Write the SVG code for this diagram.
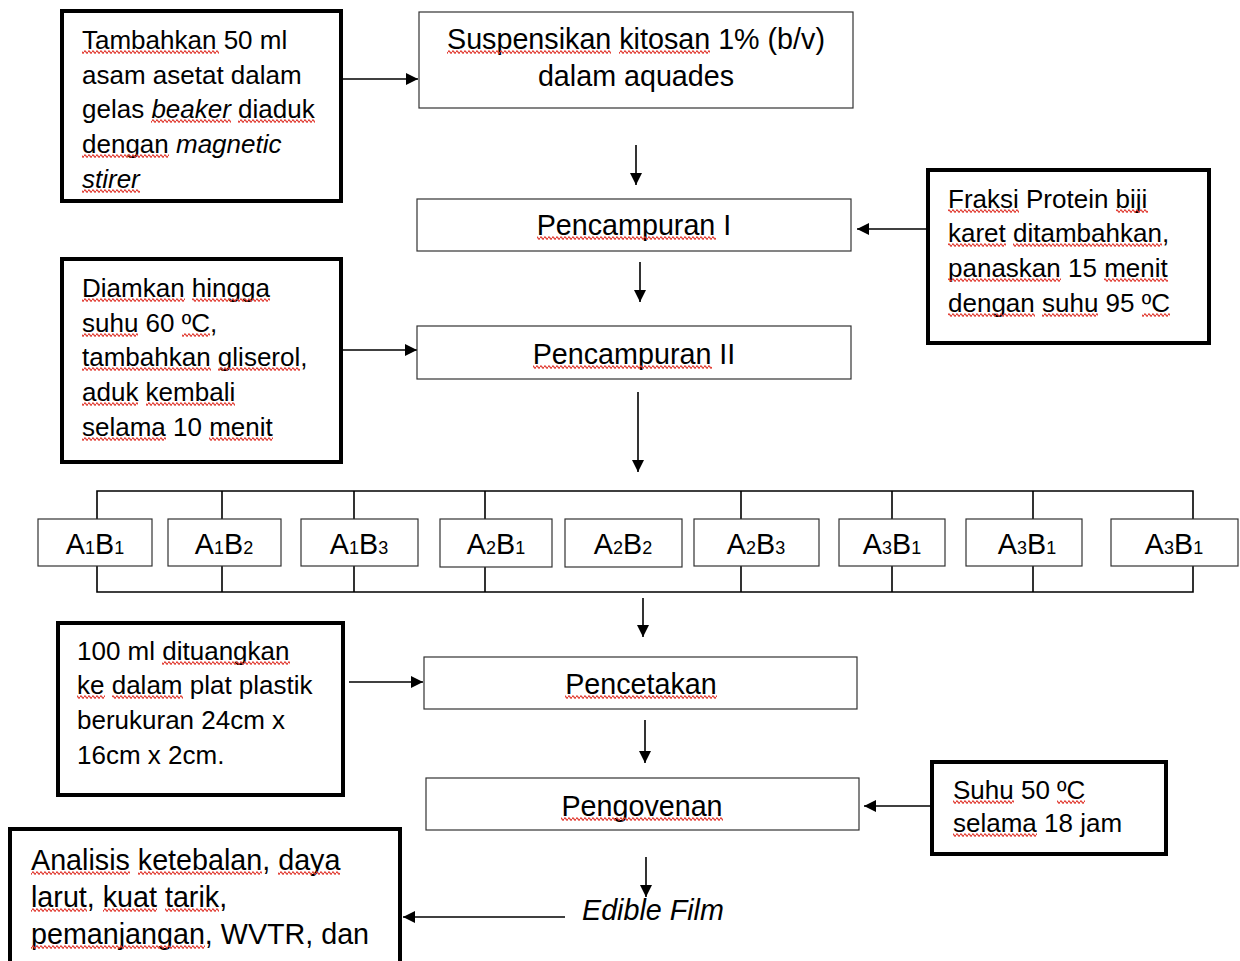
<svg xmlns="http://www.w3.org/2000/svg" width="1240" height="961" viewBox="0 0 1240 961">
<defs>
<style>
text{font-family:"Liberation Sans",Arial,sans-serif;fill:#000}
.s{font-size:26px}
.m{font-size:28.7px}
.c{text-anchor:middle}
.i{font-style:italic}
.u{fill:url(#wv)}
.thick{fill:#fff;stroke:#000;stroke-width:4}
.thin{fill:#fff;stroke:#333;stroke-width:1.2}
.ln{stroke:#000;stroke-width:1.6;fill:none}
.ar{stroke:#000;stroke-width:1.6;fill:none;marker-end:url(#ah)}
.sub{font-size:18px}
</style>
<pattern id="wv" patternUnits="userSpaceOnUse" x="0" y="0" width="4" height="4">
<path d="M0,2 Q1,-0.3 2,2 T4,2" fill="none" stroke="#e0352b" stroke-width="1.25"/>
</pattern>
<marker id="ah" markerUnits="userSpaceOnUse" markerWidth="14" markerHeight="12" refX="12" refY="6" orient="auto">
<path d="M0,0 L12,6 L0,12 z" fill="#000"/>
</marker>
</defs>
<rect width="1240" height="961" fill="#fff"/>

<g id="connectors">
<line class="ar" x1="343" y1="79" x2="418" y2="79"/>
<line class="ar" x1="636" y1="145" x2="636" y2="185"/>
<line class="ar" x1="928" y1="229" x2="857" y2="229"/>
<line class="ar" x1="640" y1="262" x2="640" y2="302"/>
<line class="ar" x1="343" y1="350" x2="417" y2="350"/>
<line class="ar" x1="638" y1="392" x2="638" y2="472"/>
<path class="ln" d="M97,519 V491 H1193 V519"/>
<path class="ln" d="M222,491 V519 M354,491 V519 M485,491 V519 M741,491 V519 M892,491 V519 M1033,491 V519"/>
<path class="ln" d="M97,566 V592 H1193 V566"/>
<path class="ln" d="M222,566 V592 M354,566 V592 M485,566 V592 M741,566 V592 M892,566 V592 M1033,566 V592"/>
<line class="ar" x1="643" y1="598" x2="643" y2="637"/>
<line class="ar" x1="349" y1="682" x2="423" y2="682"/>
<line class="ar" x1="645" y1="720" x2="645" y2="763"/>
<line class="ar" x1="930" y1="806" x2="864" y2="806"/>
<line class="ar" x1="646" y1="857" x2="646" y2="897"/>
<line class="ar" x1="565" y1="917" x2="403" y2="917"/>
</g>

<g id="n-tambahkan">
<rect class="thick" x="62" y="11" width="279" height="190"/>
<text class="s" x="82" y="49">Tambahkan 50 ml</text>
<text class="s" x="82" y="84">asam asetat dalam</text>
<text class="s" x="82" y="118">gelas <tspan class="i">beaker</tspan> diaduk</text>
<text class="s" x="82" y="153">dengan <tspan class="i">magnetic</tspan></text>
<text class="s i" x="82" y="188">stirer</text>
<rect class="u" x="82" y="0" width="137" height="4" transform="translate(0,50)"/>
<rect class="u" x="151" y="0" width="80" height="4" transform="translate(0,119)"/>
<rect class="u" x="238" y="0" width="77" height="4" transform="translate(0,119)"/>
<rect class="u" x="82" y="0" width="87" height="4" transform="translate(0,154)"/>
<rect class="u" x="82" y="0" width="58" height="4" transform="translate(0,189)"/>
</g>

<g id="n-suspensikan">
<rect class="thin" x="419" y="12" width="434" height="96"/>
<text class="m c" x="636" y="49">Suspensikan kitosan 1% (b/v)</text>
<text class="m c" x="636" y="86">dalam aquades</text>
<rect class="u" x="447" y="0" width="164" height="4" transform="translate(0,50)"/>
<rect class="u" x="619" y="0" width="91" height="4" transform="translate(0,50)"/>
</g>

<g id="n-pencampuran1">
<rect class="thin" x="417" y="199" width="434" height="52"/>
<text class="m c" x="634" y="235">Pencampuran I</text>
<rect class="u" x="537" y="0" width="179" height="4" transform="translate(0,236)"/>
</g>

<g id="n-fraksi">
<rect class="thick" x="928" y="170" width="281" height="173"/>
<text class="s" x="948" y="208">Fraksi Protein biji</text>
<text class="s" x="948" y="242">karet ditambahkan,</text>
<text class="s" x="948" y="277">panaskan 15 menit</text>
<text class="s" x="948" y="312">dengan suhu 95 ºC</text>
<rect class="u" x="948" y="0" width="71" height="4" transform="translate(0,209)"/>
<rect class="u" x="1116" y="0" width="32" height="4" transform="translate(0,209)"/>
<rect class="u" x="948" y="0" width="58" height="4" transform="translate(0,243)"/>
<rect class="u" x="1013" y="0" width="149" height="4" transform="translate(0,243)"/>
<rect class="u" x="948" y="0" width="113" height="4" transform="translate(0,278)"/>
<rect class="u" x="1104" y="0" width="64" height="4" transform="translate(0,278)"/>
<rect class="u" x="948" y="0" width="87" height="4" transform="translate(0,313)"/>
<rect class="u" x="1042" y="0" width="56" height="4" transform="translate(0,313)"/>
<rect class="u" x="1142" y="0" width="28" height="4" transform="translate(0,313)"/>
</g>

<g id="n-diamkan">
<rect class="thick" x="62" y="259" width="279" height="203"/>
<text class="s" x="82" y="297">Diamkan hingga</text>
<text class="s" x="82" y="332">suhu 60 ºC,</text>
<text class="s" x="82" y="366">tambahkan gliserol,</text>
<text class="s" x="82" y="401">aduk kembali</text>
<text class="s" x="82" y="436">selama 10 menit</text>
<rect class="u" x="82" y="0" width="103" height="4" transform="translate(0,298)"/>
<rect class="u" x="192" y="0" width="78" height="4" transform="translate(0,298)"/>
<rect class="u" x="82" y="0" width="56" height="4" transform="translate(0,333)"/>
<rect class="u" x="182" y="0" width="28" height="4" transform="translate(0,333)"/>
<rect class="u" x="82" y="0" width="129" height="4" transform="translate(0,367)"/>
<rect class="u" x="218" y="0" width="82" height="4" transform="translate(0,367)"/>
<rect class="u" x="82" y="0" width="56" height="4" transform="translate(0,402)"/>
<rect class="u" x="146" y="0" width="89" height="4" transform="translate(0,402)"/>
<rect class="u" x="82" y="0" width="84" height="4" transform="translate(0,437)"/>
<rect class="u" x="209" y="0" width="64" height="4" transform="translate(0,437)"/>
</g>

<g id="n-pencampuran2">
<rect class="thin" x="417" y="326" width="434" height="53"/>
<text class="m c" x="634" y="364">Pencampuran II</text>
<rect class="u" x="533" y="0" width="179" height="4" transform="translate(0,365)"/>
</g>

<g id="n-a1b1"><rect class="thin" x="38" y="519" width="114" height="47"/><text class="m c" x="95" y="554">A<tspan class="sub">1</tspan>B<tspan class="sub">1</tspan></text></g>
<g id="n-a1b2"><rect class="thin" x="168" y="519" width="113" height="47"/><text class="m c" x="224" y="554">A<tspan class="sub">1</tspan>B<tspan class="sub">2</tspan></text></g>
<g id="n-a1b3"><rect class="thin" x="301" y="519" width="117" height="47"/><text class="m c" x="359" y="554">A<tspan class="sub">1</tspan>B<tspan class="sub">3</tspan></text></g>
<g id="n-a2b1"><rect class="thin" x="440" y="519" width="112" height="48"/><text class="m c" x="496" y="554">A<tspan class="sub">2</tspan>B<tspan class="sub">1</tspan></text></g>
<g id="n-a2b2"><rect class="thin" x="565" y="519" width="117" height="48"/><text class="m c" x="623" y="554">A<tspan class="sub">2</tspan>B<tspan class="sub">2</tspan></text></g>
<g id="n-a2b3"><rect class="thin" x="694" y="519" width="125" height="47"/><text class="m c" x="756" y="554">A<tspan class="sub">2</tspan>B<tspan class="sub">3</tspan></text></g>
<g id="n-a3b1a"><rect class="thin" x="839" y="519" width="106" height="47"/><text class="m c" x="892" y="554">A<tspan class="sub">3</tspan>B<tspan class="sub">1</tspan></text></g>
<g id="n-a3b1b"><rect class="thin" x="966" y="519" width="116" height="47"/><text class="m c" x="1027" y="554">A<tspan class="sub">3</tspan>B<tspan class="sub">1</tspan></text></g>
<g id="n-a3b1c"><rect class="thin" x="1111" y="519" width="127" height="47"/><text class="m c" x="1174" y="554">A<tspan class="sub">3</tspan>B<tspan class="sub">1</tspan></text></g>

<g id="n-100ml">
<rect class="thick" x="58" y="623" width="285" height="172"/>
<text class="s" x="77" y="660">100 ml dituangkan</text>
<text class="s" x="77" y="694">ke dalam plat plastik</text>
<text class="s" x="77" y="729">berukuran 24cm x</text>
<text class="s" x="77" y="764">16cm x 2cm.</text>
<rect class="u" x="162" y="0" width="128" height="4" transform="translate(0,661)"/>
<rect class="u" x="77" y="0" width="28" height="4" transform="translate(0,695)"/>
<rect class="u" x="112" y="0" width="71" height="4" transform="translate(0,695)"/>
</g>

<g id="n-pencetakan">
<rect class="thin" x="424" y="657" width="433" height="52"/>
<text class="m c" x="641" y="694">Pencetakan</text>
<rect class="u" x="565" y="0" width="152" height="4" transform="translate(0,695)"/>
</g>

<g id="n-pengovenan">
<rect class="thin" x="426" y="778" width="433" height="52"/>
<text class="m c" x="642" y="816">Pengovenan</text>
<rect class="u" x="561" y="0" width="162" height="4" transform="translate(0,817)"/>
</g>

<g id="n-suhu">
<rect class="thick" x="932" y="762" width="234" height="92"/>
<text class="s" x="953" y="799">Suhu 50 ºC</text>
<text class="s" x="953" y="832">selama 18 jam</text>
<rect class="u" x="953" y="0" width="61" height="4" transform="translate(0,800)"/>
<rect class="u" x="1057" y="0" width="28" height="4" transform="translate(0,800)"/>
<rect class="u" x="953" y="0" width="84" height="4" transform="translate(0,833)"/>
</g>

<g id="n-edible">
<text class="m i" x="582" y="920">Edible Film</text>
</g>

<g id="n-analisis">
<rect class="thick" x="10" y="829" width="390" height="140"/>
<text class="m" x="31" y="870">Analisis ketebalan, daya</text>
<text class="m" x="31" y="907">larut, kuat tarik,</text>
<text class="m" x="31" y="944">pemanjangan, WVTR, dan</text>
<rect class="u" x="31" y="0" width="99" height="4" transform="translate(0,871)"/>
<rect class="u" x="138" y="0" width="124" height="4" transform="translate(0,871)"/>
<rect class="u" x="278" y="0" width="62" height="4" transform="translate(0,871)"/>
<rect class="u" x="31" y="0" width="56" height="4" transform="translate(0,908)"/>
<rect class="u" x="103" y="0" width="54" height="4" transform="translate(0,908)"/>
<rect class="u" x="165" y="0" width="54" height="4" transform="translate(0,908)"/>
<rect class="u" x="31" y="0" width="174" height="4" transform="translate(0,945)"/>
</g>
</svg>
